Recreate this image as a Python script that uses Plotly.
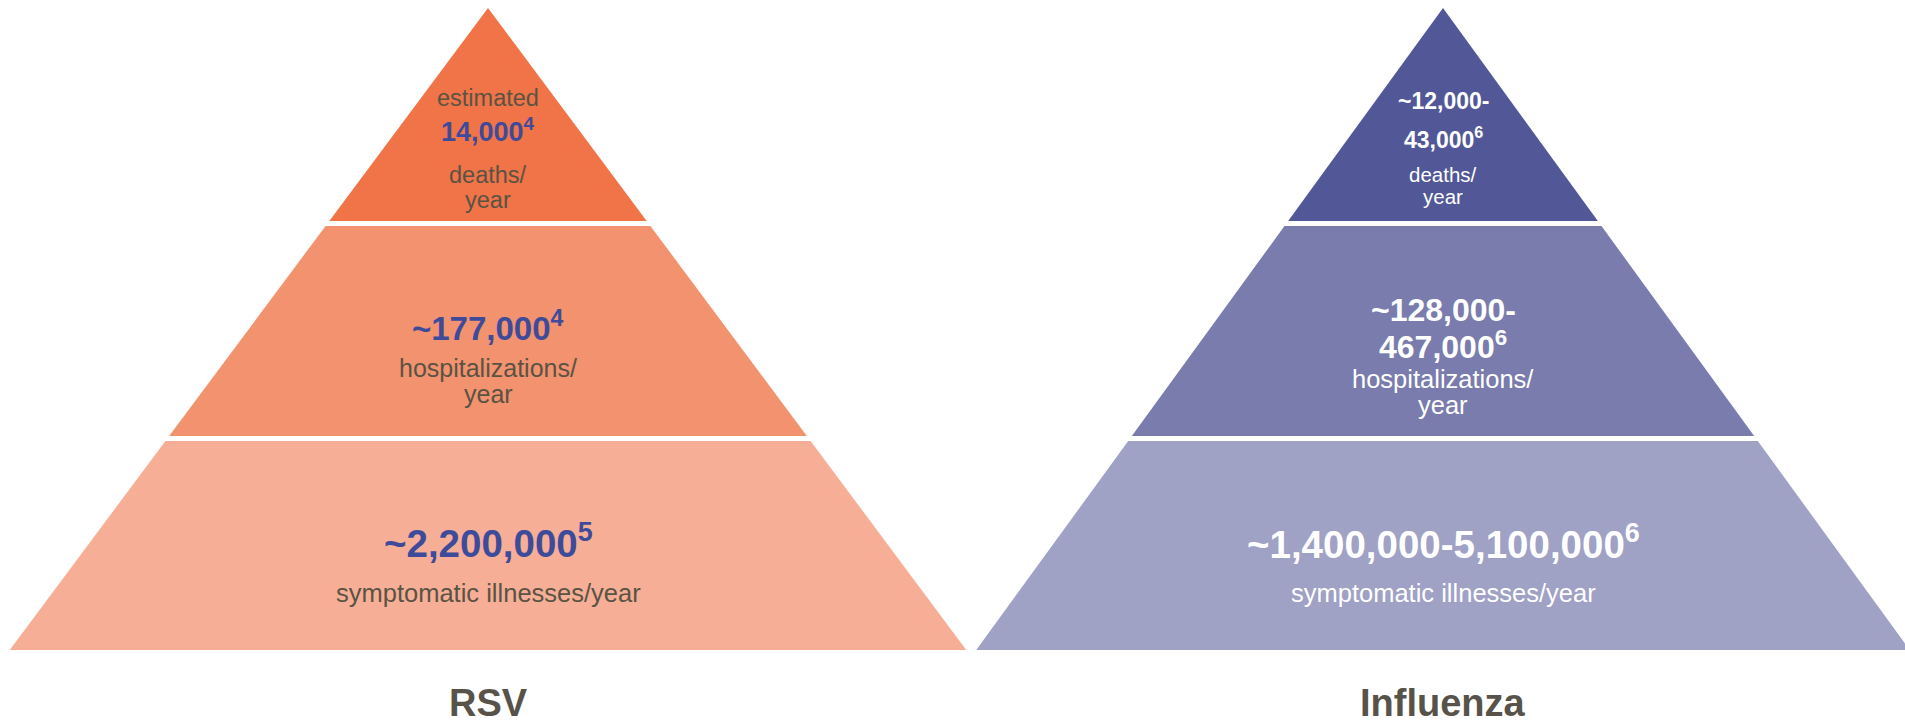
import plotly.graph_objects as go

# ---------------- data ----------------
diseases = ["RSV", "Influenza"]
tiers = ["deaths", "hospitalizations", "symptomatic illnesses"]

rsv_prefix = ["estimated", "", ""]
rsv_numbers = [["14,000"], ["~177,000"], ["~2,200,000"]]
rsv_refs = ["4", "4", "5"]
rsv_units = [["deaths/", "year"], ["hospitalizations/", "year"], ["symptomatic illnesses/year"]]

flu_prefix = ["", "", ""]
flu_numbers = [["~12,000-", "43,000"], ["~128,000-", "467,000"], ["~1,400,000-5,100,000"]]
flu_refs = ["6", "6", "6"]
flu_units = [["deaths/", "year"], ["hospitalizations/", "year"], ["symptomatic illnesses/year"]]

# ---------------- layout / style ----------------
W, H = 1905, 726
FONT = "Liberation Sans, Arial, sans-serif"

pyr = {
    "RSV": dict(cx=488, slope=0.745,
                fills=["#F07447", "#F3926E", "#F6AF96"],
                num_color="#3E4B9B", txt_color="#5A5344"),
    "Influenza": dict(cx=1443, slope=0.727,
                      fills=["#525897", "#797CAC", "#9FA1C5"],
                      num_color="#FFFFFF", txt_color="#FFFFFF"),
}
APEX_Y = 8
TIER_Y = [(APEX_Y, 221), (226, 436), (441, 650)]

# text line layout per disease/tier: (y centre, font size)
line_layout = {
    "RSV": [
        dict(prefix=(98, 23.5), nums=[(130, 27)], units=[(175, 23.5), (200, 23.5)]),
        dict(prefix=None, nums=[(326, 33)], units=[(368, 25), (394, 25)]),
        dict(prefix=None, nums=[(541, 38.5)], units=[(593, 25.5)]),
    ],
    "Influenza": [
        dict(prefix=None, nums=[(101, 23), (138, 23)], units=[(174, 20.5), (196, 20.5)]),
        dict(prefix=None, nums=[(310, 32), (345, 32)], units=[(379, 25.5), (405, 25.5)]),
        dict(prefix=None, nums=[(542, 38.5)], units=[(593, 25.5)]),
    ],
}
LABEL_Y = 703
LABEL_SIZE = 38
LABEL_COLOR = "#58534A"

content = {
    "RSV": (rsv_prefix, rsv_numbers, rsv_refs, rsv_units),
    "Influenza": (flu_prefix, flu_numbers, flu_refs, flu_units),
}

fig = go.Figure()
annotations = []


def ann(x, y, text, size, color, bold=False):
    return dict(x=x, y=y, text=text, showarrow=False,
                xanchor="center", yanchor="middle",
                font=dict(family=FONT, size=size, color=color,
                          weight="bold" if bold else "normal"))


for d in diseases:
    p = pyr[d]
    cx, s = p["cx"], p["slope"]
    prefix, numbers, refs, units = content[d]
    for i, tier in enumerate(tiers):
        y0, y1 = TIER_Y[i]
        hw0 = (y0 - APEX_Y) * s
        hw1 = (y1 - APEX_Y) * s
        xs = [cx - hw0, cx + hw0, cx + hw1, cx - hw1, cx - hw0]
        ys = [y0, y0, y1, y1, y0]
        fig.add_trace(go.Scatter(
            x=xs, y=ys, mode="lines", fill="toself",
            fillcolor=p["fills"][i], line=dict(width=0),
            name=f"{d}: {tier}", hoverinfo="skip", showlegend=False,
        ))
        lay = line_layout[d][i]
        if prefix[i] and lay["prefix"]:
            yy, sz = lay["prefix"]
            annotations.append(ann(cx, yy, prefix[i], sz, p["txt_color"]))
        nlines = numbers[i]
        for k, line in enumerate(nlines):
            yy, sz = lay["nums"][k]
            txt = line
            if k == len(nlines) - 1:
                txt += f"<sup>{refs[i]}</sup>"
            annotations.append(ann(cx, yy, txt, sz, p["num_color"], bold=True))
        for k, line in enumerate(units[i]):
            yy, sz = lay["units"][k]
            annotations.append(ann(cx, yy, line, sz, p["txt_color"]))
    annotations.append(ann(cx, LABEL_Y, d, LABEL_SIZE, LABEL_COLOR, bold=True))

fig.update_layout(
    width=W, height=H,
    margin=dict(l=0, r=0, t=0, b=0),
    paper_bgcolor="white", plot_bgcolor="white",
    xaxis=dict(range=[0, W], visible=False, fixedrange=True),
    yaxis=dict(range=[H, 0], visible=False, fixedrange=True),
    annotations=annotations,
    showlegend=False,
)

fig.write_html(
    "out.html",
    config={"displayModeBar": False},
    post_script="document.body.style.margin='0';document.body.style.overflow='hidden';",
)
